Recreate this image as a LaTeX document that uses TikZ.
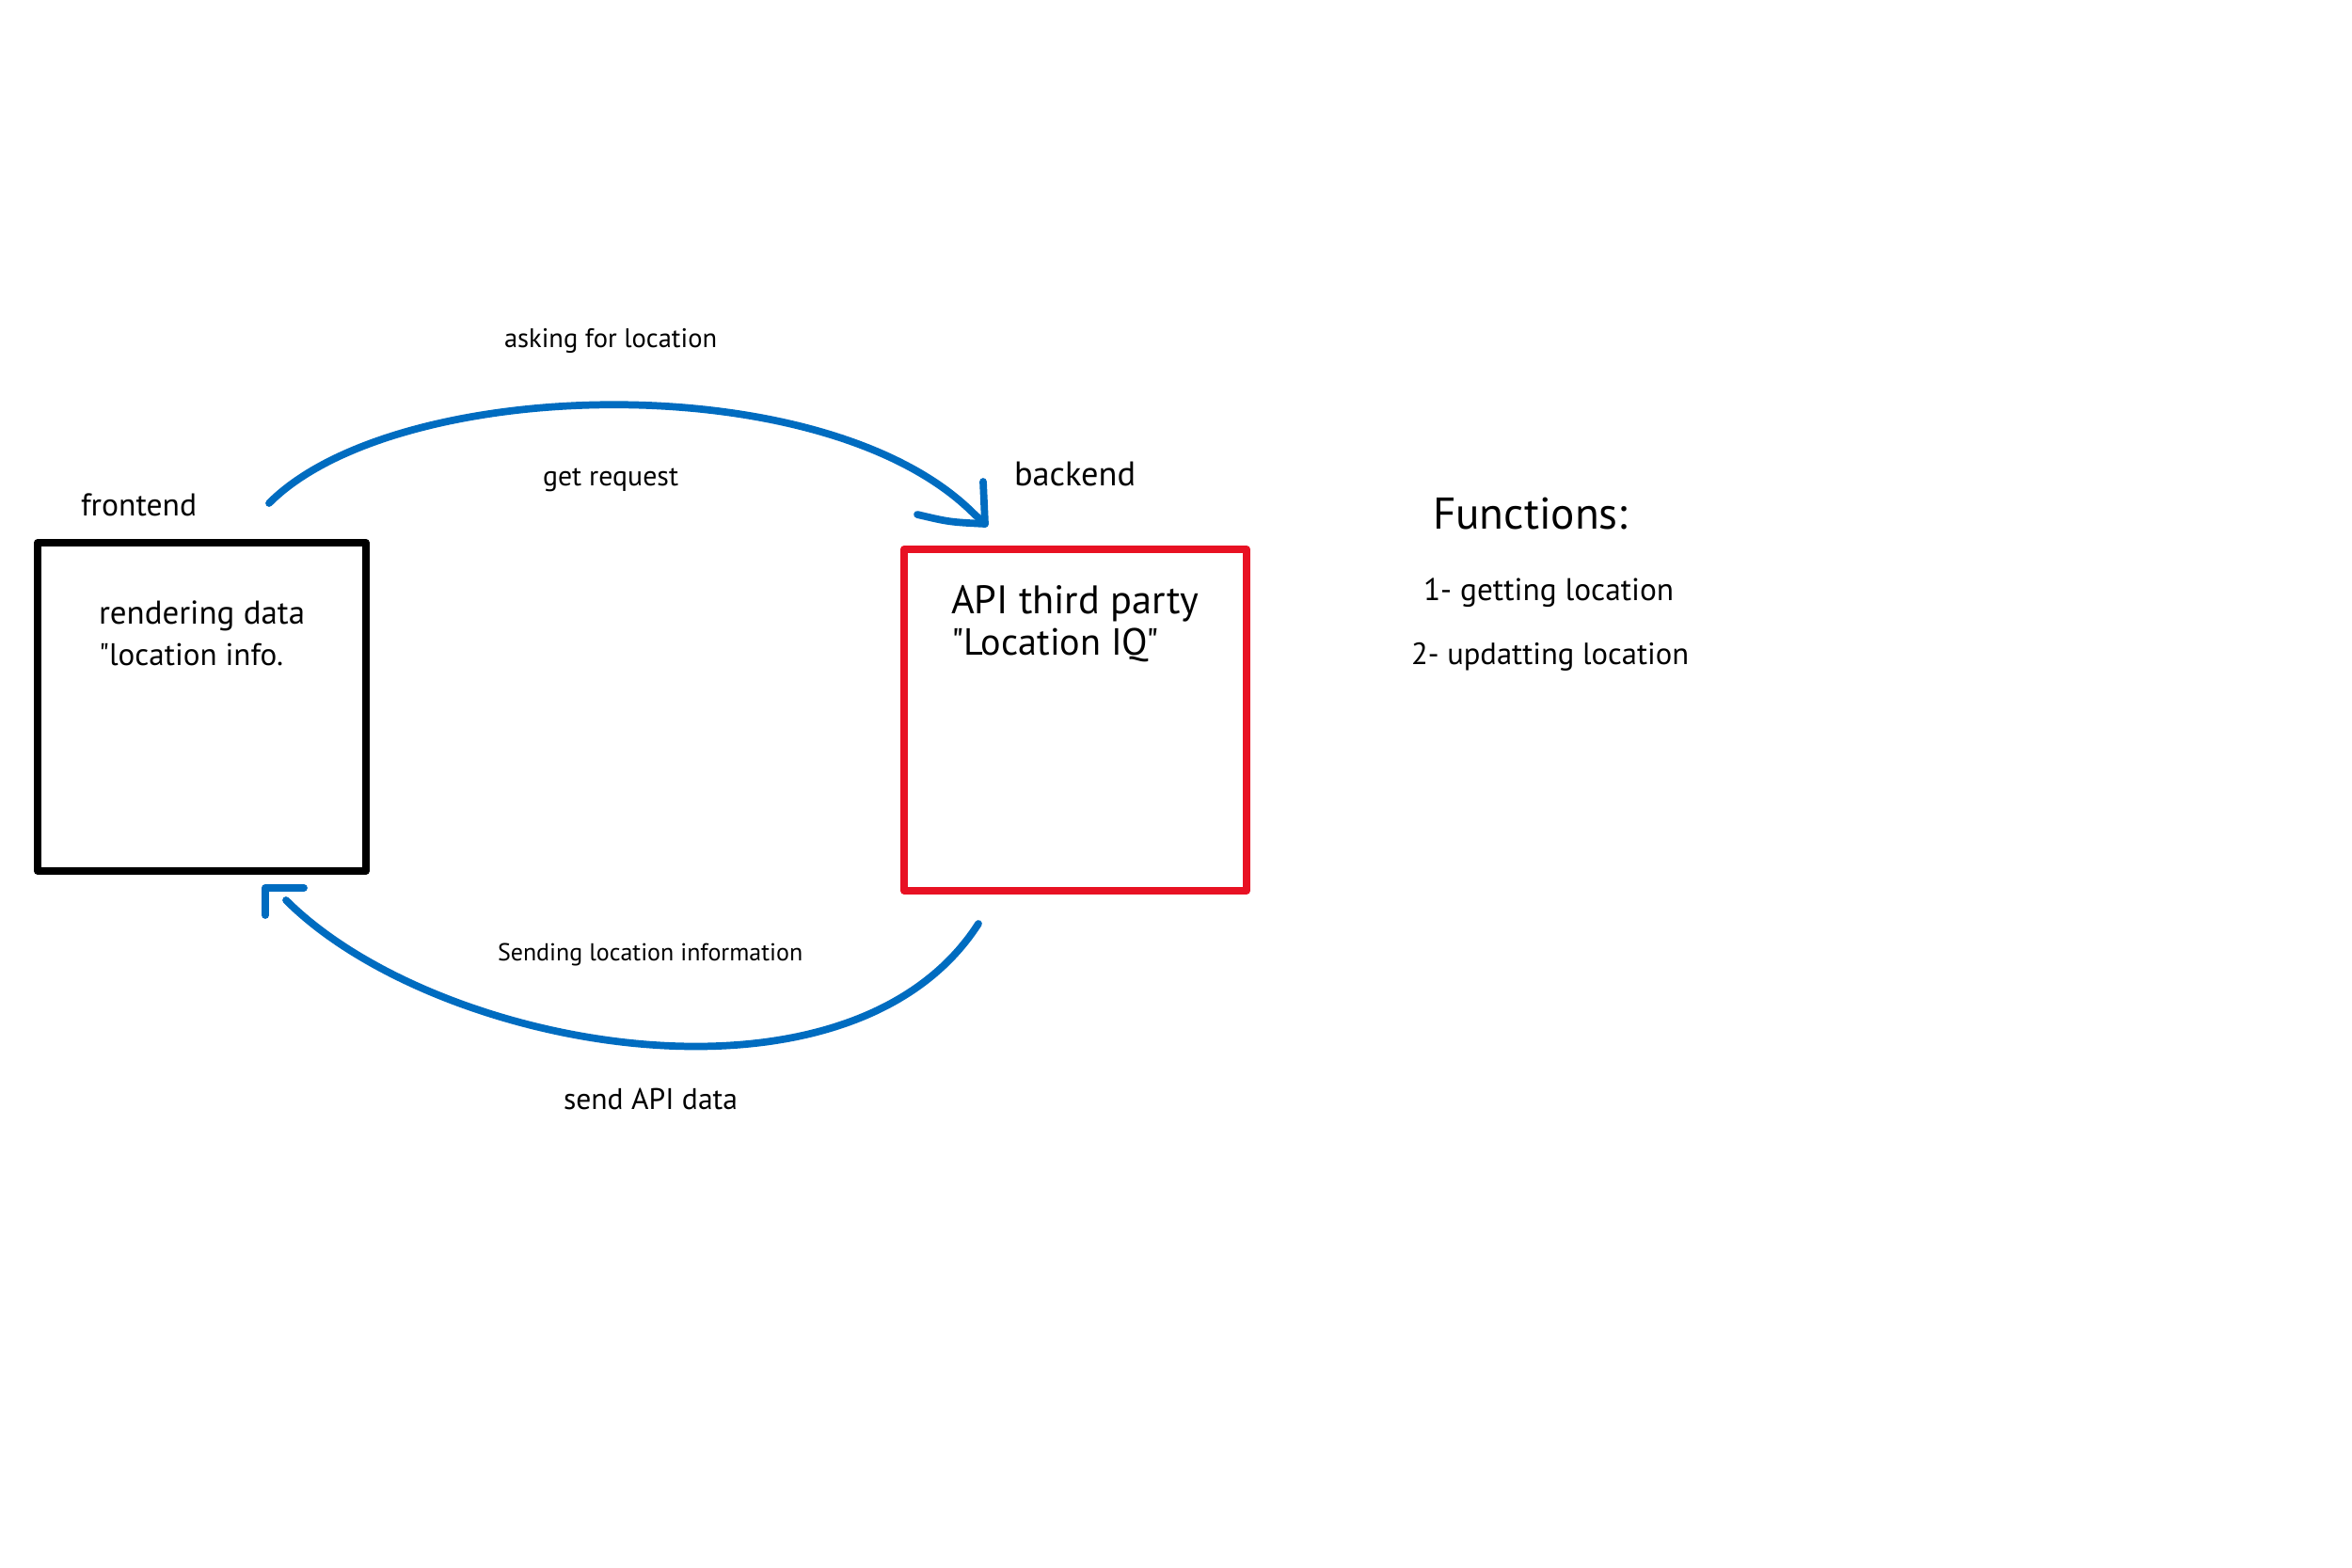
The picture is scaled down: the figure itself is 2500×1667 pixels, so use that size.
\documentclass[tikz,border=0pt]{standalone}
\usepackage{fontspec}
\setmainfont{PT Sans}[Ligatures=TeXOff]
\usepackage{graphicx}
\definecolor{arrowblue}{RGB}{0,108,192}
\definecolor{boxred}{RGB}{232,17,35}
\newcommand{\fitw}[2]{\resizebox{#1cm}{!}{#2}}
\begin{document}
\begin{tikzpicture}[x=0.01cm,y=-0.01cm,
  lbl/.style={inner sep=0pt, outer sep=0pt, anchor=west, text=black},
  sketchbox/.style={draw, line width=2.1pt, line join=round, minimum width=3.49cm, minimum height=3.49cm, inner sep=0pt},
  conn/.style={draw=arrowblue, line width=2.2pt, line cap=round, line join=round}]
\useasboundingbox[fill=white] (0,0) rectangle (2500,1667);

% boxes
\node[sketchbox, draw=black] (front) at (214.5,751.5) {};
\node[sketchbox, draw=boxred, minimum width=3.64cm, minimum height=3.63cm] (back) at (1143,765.5) {};

% labels
\node[lbl] (frontlbl) at (86,537) {\fitw{1.23}{frontend}};
\node[lbl] (backlbl) at (1078,504) {\fitw{1.29}{backend}};
\node[lbl] (rend1) at (105,655) {\fitw{2.19}{rendering data}};
\node[lbl] (rend2) at (105,696) {\fitw{1.96}{"location info.}};
\node[lbl] (api1) at (1011,642) {\fitw{2.63}{API third party}};
\node[lbl] (api2) at (1011,686) {\fitw{2.21}{"Location IQ"}};
\node[lbl] (asklbl) at (536,362) {\fitw{2.26}{asking for location}};
\node[lbl] (getlbl) at (577,510) {\fitw{1.44}{get request}};
\node[lbl] (sendlbl) at (529,1015) {\fitw{3.24}{Sending location information}};
\node[lbl] (apilbl) at (599,1168) {\fitw{1.85}{send API data}};
\node[lbl] (funlbl) at (1523,546) {\fitw{2.07}{Functions:}};
\node[lbl] (fun1) at (1513,630) {\fitw{2.66}{1- getting location}};
\node[lbl] (fun2) at (1500,698) {\fitw{2.95}{2- updatting location}};

% connector: frontend -> backend
\coordinate (reqstart) at (286,535);
\coordinate (reqend) at (1047,557);
\draw[conn] (reqstart) .. controls (420,400) and (876,387) .. (1035,546) -- (reqend);
\draw[conn] (975,547) .. controls (1009,555) .. (reqend) -- (1045,512);

% connector: backend -> frontend
\coordinate (resstart) at (1040,982);
\coordinate (resend) at (282,944);
\draw[conn] (resstart) .. controls (902,1197) and (463,1116) .. (304,957);
\draw[conn] (282,973) -- (resend) -- (323,944);
\end{tikzpicture}
\end{document}
